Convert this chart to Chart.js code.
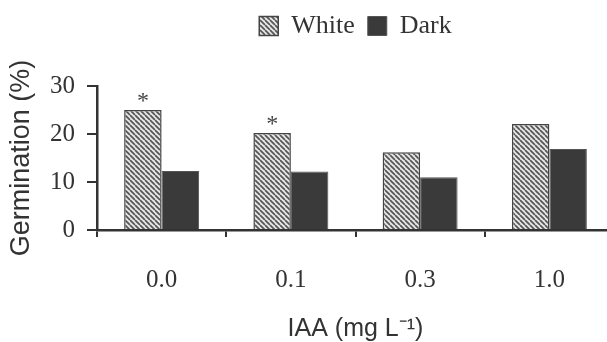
<!DOCTYPE html>
<html>
<head>
<meta charset="utf-8">
<script src="https://cdn.jsdelivr.net/npm/chart.js@4.4.1/dist/chart.umd.min.js"></script>
<style>
  html, body { margin: 0; padding: 0; background: #fff; overflow: hidden; width: 607px; height: 342px; }
  canvas { display: block; }
</style>
</head>
<body>
<canvas id="c" width="614" height="342"></canvas>
<script>
// ---- data ----
const categories = ['0.0', '0.1', '0.3', '1.0'];
const whiteValues = [25.0, 20.2, 16.2, 22.1];
const darkValues = [12.3, 12.2, 11.0, 16.9];
const significance = ['*', '*', '', ''];
const seriesNames = ['White', 'Dark'];
const yMin = 0, yMax = 30, yStep = 10;

// hatch pattern for the "White" series
function makeHatch() {
  const s = 5;
  const cv = document.createElement('canvas');
  cv.width = s; cv.height = s;
  const g = cv.getContext('2d');
  g.fillStyle = '#e6e6e6';
  g.fillRect(0, 0, s, s);
  g.strokeStyle = '#555';
  g.lineWidth = 1.7;
  g.beginPath();
  for (let k = -1; k <= 1; k++) {
    g.moveTo(k * s, 0);
    g.lineTo(k * s + s, s);
  }
  g.stroke();
  return g.createPattern(cv, 'repeat');
}

const textColor = '#333';
const serif = 'Liberation Serif';
const sans = 'Liberation Sans';

const asteriskPlugin = {
  id: 'asterisks',
  afterDatasetsDraw(chart) {
    const meta = chart.getDatasetMeta(0);
    const ctx = chart.ctx;
    ctx.save();
    ctx.fillStyle = '#444';
    ctx.font = '24px "' + serif + '"';
    ctx.textAlign = 'center';
    ctx.textBaseline = 'alphabetic';
    meta.data.forEach((bar, i) => {
      if (significance[i]) ctx.fillText(significance[i], bar.x, bar.y - 2);
    });
    ctx.restore();
  }
};

new Chart(document.getElementById('c'), {
  type: 'bar',
  data: {
    labels: categories,
    datasets: [
      { label: seriesNames[0], data: whiteValues, backgroundColor: makeHatch(), borderColor: '#444', borderWidth: 1.5,
        categoryPercentage: 0.58, barPercentage: 1.0 },
      { label: seriesNames[1], data: darkValues, backgroundColor: '#3a3a3a', borderColor: '#555', borderWidth: 1,
        categoryPercentage: 0.58, barPercentage: 1.0 }
    ]
  },
  options: {
    responsive: false,
    animation: false,
    devicePixelRatio: 1,
    layout: { padding: 0 },
    plugins: {
      legend: {
        position: 'top',
        fullSize: false,
        weight: 3000,
        labels: {
          font: { family: serif, size: 26 },
          color: textColor,
          boxWidth: 19,
          boxHeight: 19,
          padding: 13
        }
      },
      subtitle: {
        display: true,
        text: ' ',
        padding: 0,
        font: { size: 37, lineHeight: 1 }
      },
      tooltip: { enabled: false }
    },
    scales: {
      x: {
        type: 'category',
        grid: { display: true, offset: true, drawOnChartArea: false, drawTicks: true, tickLength: 7, color: '#333', lineWidth: 2 },
        border: { display: true, color: '#333', width: 2.5 },
        ticks: { font: { family: serif, size: 25 }, color: textColor, padding: 28 },
        title: { display: true, text: 'IAA (mg L\u207B\u00B9)', font: { family: sans, size: 25, lineHeight: 1 }, color: textColor, padding: { top: 0, bottom: 0 } },
        afterFit(scale) { scale.height = 112; }
      },
      y: {
        min: yMin,
        max: yMax,
        grid: { display: true, drawOnChartArea: false, drawTicks: true, tickLength: 10, color: '#333', lineWidth: 2 },
        border: { display: true, color: '#333', width: 2.5 },
        ticks: { stepSize: yStep, font: { family: serif, size: 25 }, color: textColor, padding: 12 },
        title: { display: true, text: 'Germination (%)', font: { family: sans, size: 27, lineHeight: 1 }, color: textColor, padding: { top: 8, bottom: 0 } },
        afterFit(scale) { scale.width = 97; }
      }
    }
  },
  plugins: [asteriskPlugin]
});
</script>
</body>
</html>
